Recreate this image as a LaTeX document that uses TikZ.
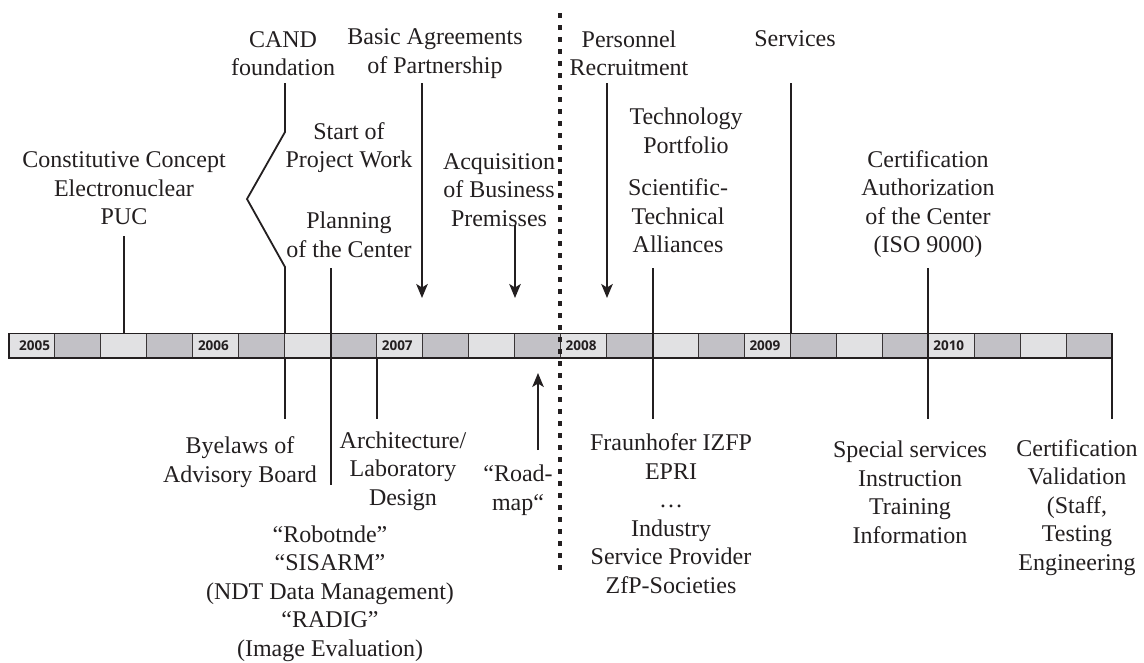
\documentclass[tikz,border=0pt]{standalone}
\usepackage{fontspec}
\setmainfont{Liberation Serif}
\newfontfamily\yearfont{Open Sans}
\usetikzlibrary{arrows.meta}
\definecolor{txt}{HTML}{231F20}
\definecolor{cellA}{HTML}{E1E1E3}
\definecolor{cellB}{HTML}{C2C1C6}
\begin{document}
\begin{tikzpicture}[x=1pt,y=-1pt,
  lbl/.style={align=center,inner sep=0pt,text=txt,font=\fontsize{24}{28.5}\selectfont},
  conn/.style={draw=txt,line width=1.8pt},
  arr/.style={conn,-{Stealth[length=14pt,width=11.5pt,inset=3.5pt]}},
  yr/.style={anchor=west,inner sep=0pt,text=txt,font=\yearfont\bfseries\fontsize{13.5}{15}\selectfont},
  sepline/.style={draw=txt,line width=3.2pt,dash pattern=on 5pt off 7pt},
  cellsep/.style={draw=txt!90,line width=1pt}]
\useasboundingbox (0,0) rectangle (1144,662);

% timeline bar
\foreach \i in {0,...,23}{
  \pgfmathsetmacro\xa{9+\i*45.958}
  \pgfmathtruncatemacro\m{mod(\i,2)}
  \ifnum\m=0 \def\cc{cellA}\else\def\cc{cellB}\fi
  \fill[\cc] (\xa,333.5) rectangle ++(45.958,24.5);
  \draw[cellsep] (\xa,333.5) -- ++(0,24.5);
}
\draw[draw=txt,line width=1.5pt] (9,333.5) rectangle (1112,358);
\node[yr] (y2005) at (19,346) {2005};
\foreach \y [count=\k from 1] in {2006,2007,2008,2009,2010}
  \node[yr] (y\y) at (9+\k*183.83+5,346) {\y};

% separator
\coordinate (septop) at (560,13);
\coordinate (sepbot) at (560,572);
\draw[sepline] (septop) -- (sepbot);

% labels above
\node[lbl] (const) at (124,188.5) {Constitutive Concept\\Electronuclear\\PUC};
\node[lbl] (cand) at (283,53.5) {CAND\\foundation};
\node[lbl] (basic) at (435,53.5) {Basic Agreements\\of Partnership};
\node[lbl] (start) at (349,147.5) {Start of\\Project Work};
\node[lbl] (plan) at (349,235) {Planning\\of the Center};
\node[lbl] (acq) at (499,190) {Acquisition\\of Business\\Premisses};
\node[lbl] (pers) at (629,53.5) {Personnel\\Recruitment};
\node[lbl] (tech) at (686,131) {Technology\\Portfolio};
\node[lbl] (sci) at (678,216) {Scientific-\\Technical\\Alliances};
\node[lbl] (serv) at (795,39) {Services};
\node[lbl] (certiso) at (928,204) {Certification\\Authorization\\of the Center\\(ISO 9000)};

% labels below
\node[lbl] (byel) at (240,462) {Byelaws of\\Advisory Board};
\node[lbl] (arch) at (403,471) {Architecture/\\Laboratory\\Design};
\node[lbl] (road) at (518,490) {“Road-\\map“};
\node[lbl] (robot) at (330,593.5) {“Robotnde”\\“SISARM”\\(NDT Data Management)\\“RADIG”\\(Image Evaluation)};
\node[lbl] (fraun) at (671,513.5) {Fraunhofer IZFP\\EPRI\\…\\Industry\\Service Provider\\ZfP-Societies};
\node[lbl] (special) at (910,492.5) {Special services\\Instruction\\Training\\Information};
\node[lbl] (certval) at (1077,507.5) {Certification\\Validation\\(Staff,\\Testing\\Engineering};

% connector end points
\coordinate (constA) at (124,236);   \coordinate (constB) at (124,333.5);
\coordinate (candA) at (285,83);     \coordinate (candB) at (285,132);
\coordinate (candC) at (247,199);    \coordinate (candD) at (285,267);
\coordinate (candE) at (285,333.5);
\coordinate (byelA) at (285,358);    \coordinate (byelB) at (285,419);
\coordinate (planA) at (331,268);    \coordinate (planB) at (331,485);
\coordinate (basicA) at (422,83);    \coordinate (basicB) at (422,298);
\coordinate (acqA) at (515,225);     \coordinate (acqB) at (515,298);
\coordinate (persA) at (607,83);     \coordinate (persB) at (607,298);
\coordinate (sciA) at (653,268);     \coordinate (sciB) at (653,419);
\coordinate (servA) at (791,83);     \coordinate (servB) at (791,333.5);
\coordinate (isoA) at (928,268);     \coordinate (isoB) at (928,419);
\coordinate (archA) at (377,358);    \coordinate (archB) at (377,419);
\coordinate (roadA) at (538,450);    \coordinate (roadB) at (538,373);
\coordinate (valA) at (1112,358);    \coordinate (valB) at (1112,419);

\draw[conn] (constA) -- (constB);
\draw[conn] (candA) -- (candB) -- (candC) -- (candD) -- (candE);
\draw[conn] (byelA) -- (byelB);
\draw[conn] (planA) -- (planB);
\draw[arr] (basicA) -- (basicB);
\draw[arr] (acqA) -- (acqB);
\draw[arr] (persA) -- (persB);
\draw[conn] (sciA) -- (sciB);
\draw[conn] (servA) -- (servB);
\draw[conn] (isoA) -- (isoB);
\draw[conn] (archA) -- (archB);
\draw[arr] (roadA) -- (roadB);
\draw[conn] (valA) -- (valB);
\end{tikzpicture}
\end{document}
